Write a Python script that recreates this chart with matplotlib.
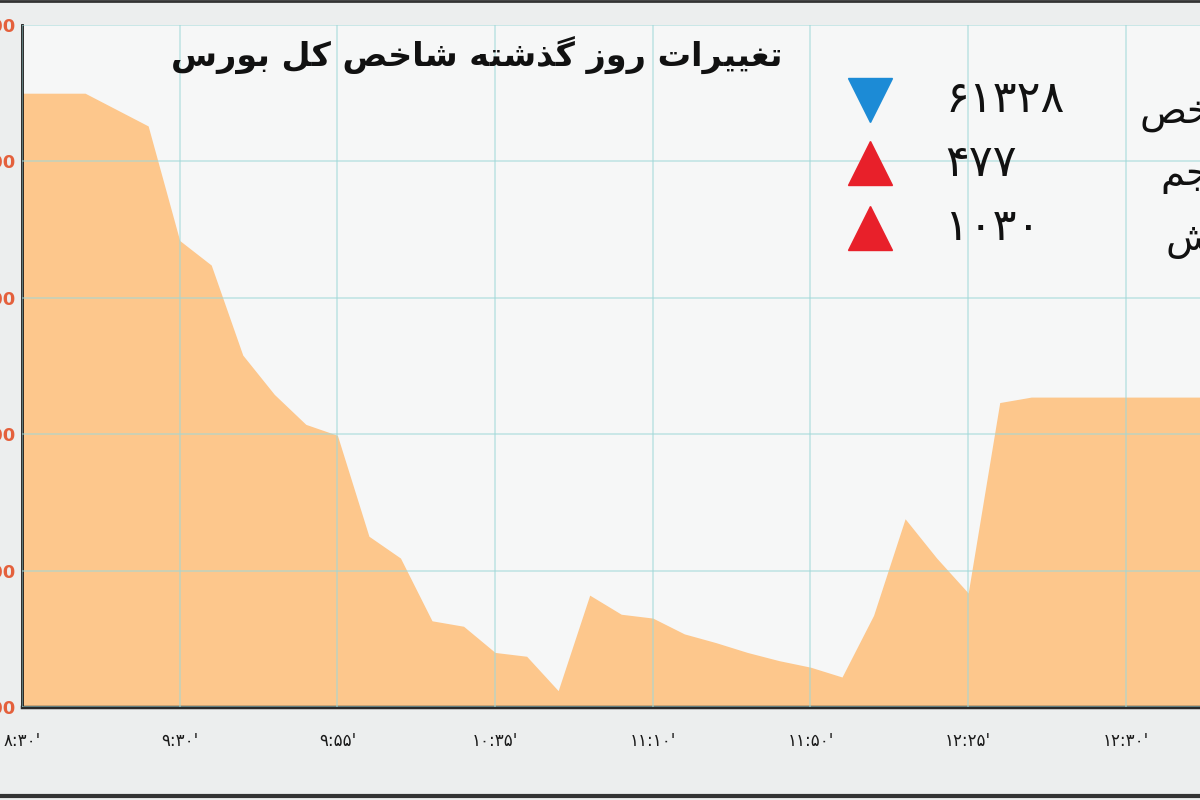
import matplotlib.pyplot as plt
from matplotlib.lines import Line2D

# index samples through the day (position on the time axis, index value)
time_pos = [0, 0.2, 0.4, 0.8, 1.0, 1.2, 1.4, 1.6, 1.8, 2.0, 2.2, 2.4, 2.6, 2.8,
            3.0, 3.2, 3.4, 3.6, 3.8, 4.0, 4.2, 4.4, 4.6, 4.8, 5.0, 5.2, 5.4,
            5.6, 5.8, 6.0, 6.2, 6.4, 7.6]
index_val = [1287500, 1287500, 1287500, 1281500, 1260500, 1256000, 1239500,
             1232300, 1226800, 1224800, 1206300, 1202300, 1190800, 1189800,
             1185000, 1184300, 1178000, 1195500, 1192000, 1191300, 1188400,
             1186800, 1185000, 1183500, 1182300, 1180500, 1191800, 1209500,
             1202300, 1195900, 1230800, 1231800, 1231800]

x_labels = ["۸:۳۰'", "۹:۳۰'", "۹:۵۵'", "۱۰:۳۵'", "۱۱:۱۰'", "۱۱:۵۰'", "۱۲:۲۵'", "۱۲:۳۰'"]
y_ticks = [1175000, 1200000, 1225000, 1250000, 1275000, 1300000]

title = 'تغییرات روز گذشته شاخص کل بورس'
legend_names = ['شاخص', 'حجم', 'ارزش']
legend_values = ['۶۱۳۲۸', '۴۷۷', '۱۰۳۰']
legend_up = [False, True, True]

# matplotlib has no arabic shaping, so pick the joined glyph forms by hand
FORMS = {
    'ا': ('\uFE8D', '\uFE8E', None, None),
    'ب': ('\uFE8F', '\uFE90', '\uFE91', '\uFE92'),
    'ت': ('\uFE95', '\uFE96', '\uFE97', '\uFE98'),
    'ج': ('\uFE9D', '\uFE9E', '\uFE9F', '\uFEA0'),
    'ح': ('\uFEA1', '\uFEA2', '\uFEA3', '\uFEA4'),
    'خ': ('\uFEA5', '\uFEA6', '\uFEA7', '\uFEA8'),
    'د': ('\uFEA9', '\uFEAA', None, None),
    'ذ': ('\uFEAB', '\uFEAC', None, None),
    'ر': ('\uFEAD', '\uFEAE', None, None),
    'ز': ('\uFEAF', '\uFEB0', None, None),
    'س': ('\uFEB1', '\uFEB2', '\uFEB3', '\uFEB4'),
    'ش': ('\uFEB5', '\uFEB6', '\uFEB7', '\uFEB8'),
    'ص': ('\uFEB9', '\uFEBA', '\uFEBB', '\uFEBC'),
    'غ': ('\uFECD', '\uFECE', '\uFECF', '\uFED0'),
    'ک': ('\uFB8E', '\uFB8F', '\uFB90', '\uFB91'),
    'گ': ('\uFB92', '\uFB93', '\uFB94', '\uFB95'),
    'ل': ('\uFEDD', '\uFEDE', '\uFEDF', '\uFEE0'),
    'م': ('\uFEE1', '\uFEE2', '\uFEE3', '\uFEE4'),
    'ه': ('\uFEE9', '\uFEEA', '\uFEEB', '\uFEEC'),
    'و': ('\uFEED', '\uFEEE', None, None),
    'ی': ('\uFBFC', '\uFBFD', '\uFBFE', '\uFBFF'),
}


def shape(text):
    out = []
    for i, c in enumerate(text):
        if c not in FORMS:
            out.append(c)
            continue
        prev = text[i - 1] if i > 0 else ''
        nxt = text[i + 1] if i + 1 < len(text) else ''
        join_prev = prev in FORMS and FORMS[prev][2] is not None
        join_next = nxt in FORMS and FORMS[c][2] is not None
        iso, fin, ini, med = FORMS[c]
        if join_prev and join_next:
            out.append(med)
        elif join_prev:
            out.append(fin)
        elif join_next:
            out.append(ini)
        else:
            out.append(iso)
    return ''.join(reversed(out))


plt.rcParams['font.family'] = ['DejaVu Sans']

fig = plt.figure(figsize=(12, 8), dpi=100, facecolor='#eceeee')
ax = fig.add_axes([22 / 1200, 93 / 800, 1 - 22 / 1200, 682 / 800])
ax.set_facecolor('#f6f7f7')

ax.fill_between(time_pos, index_val, y_ticks[0], color='#fdc78c', lw=0, zorder=1)

ax.set_xlim(0, 7.47)
ax.set_ylim(y_ticks[0], y_ticks[-1])
ax.set_xticks(range(len(x_labels)))
ax.set_xticklabels(x_labels, fontsize=12, color='#1a1a1a')
ax.set_yticks(y_ticks)
ax.set_yticklabels([f'{v:,}' for v in y_ticks], fontsize=13, color='#e4603c',
                   fontweight='bold')
ax.tick_params(axis='x', length=0, pad=18)
ax.tick_params(axis='y', length=0, pad=4)
ax.grid(True, color='#9fd8d8', lw=1.2, alpha=0.6, zorder=2)
ax.set_axisbelow(False)

for side in ['top', 'right']:
    ax.spines[side].set_visible(False)
ax.spines['left'].set_linewidth(2)
ax.spines['bottom'].set_linewidth(2.5)
ax.spines['left'].set_color('#1a1a1a')
ax.spines['bottom'].set_color('#2a2a2a')

fig.text(477 / 1200, 1 - 55 / 800, shape(title), ha='center', va='center',
         fontsize=24, fontweight='bold', color='#111111')

rows_y = [100, 163, 228]
name_x = [1140, 1160, 1165]
for name, val, up, py, nx in zip(legend_names, legend_values, legend_up, rows_y, name_x):
    yf = 1 - py / 800
    ax.plot([870 / 1200], [yf], marker='^' if up else 'v', ms=32,
            color='#e8202a' if up else '#1c8bd6', transform=fig.transFigure,
            clip_on=False, zorder=5)
    fig.text(945 / 1200, yf, val, ha='left', va='center', fontsize=32,
             color='#111111')
    fig.text(nx / 1200, yf - 12 / 800, shape(name), ha='left', va='center',
             fontsize=28, color='#111111')

# dark frame lines at the top and bottom of the picture
fig.add_artist(Line2D([0, 1], [1 - 1 / 800, 1 - 1 / 800], color='#333333', lw=2))
fig.add_artist(Line2D([0, 1], [4 / 800, 4 / 800], color='#333333', lw=3))

fig.savefig('out.png', dpi=100, facecolor=fig.get_facecolor())
